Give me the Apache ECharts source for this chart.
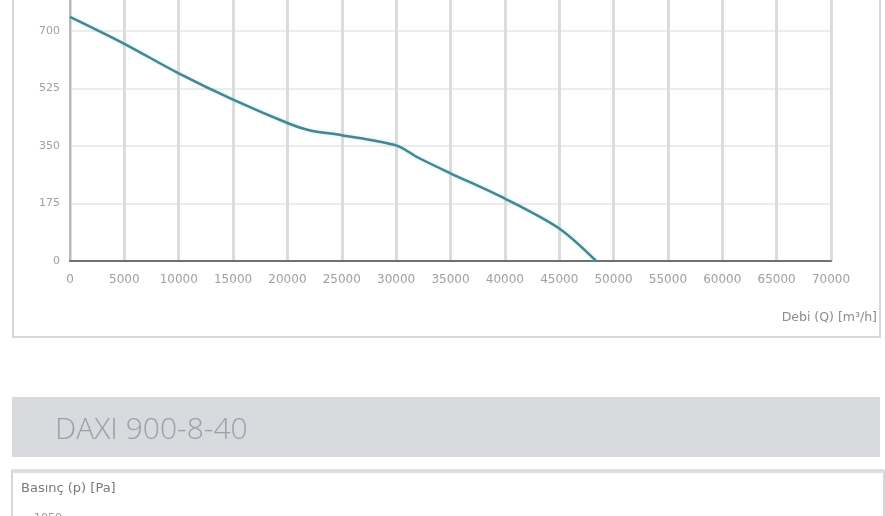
<!DOCTYPE html>
<html>
<head>
<meta charset="utf-8">
<script src="https://cdn.jsdelivr.net/npm/echarts@6/dist/echarts.min.js"></script>
<style>
html,body{margin:0;padding:0;background:#fff;overflow:hidden;}
#c{width:885px;height:548px;margin-top:-32px;}
</style>
</head>
<body>
<div id="c"></div>
<script>
// Data
const flowQ = [0, 5000, 10000, 15000, 20000, 22000, 25000, 30000, 32000, 35000, 40000, 45000, 48400];
const pressureP = [743, 661, 571, 491, 420, 398, 383, 352, 315, 267, 190, 99, 0];
const xTicks = [0, 5000, 10000, 15000, 20000, 25000, 30000, 35000, 40000, 45000, 50000, 55000, 60000, 65000, 70000];
const yTicks = [0, 175, 350, 525, 700, 875];
const xAxisName = 'Debi (Q) [m³/h]';
const nextTitle = 'DAXI 900-8-40';
const nextYAxisName = 'Basınç (p) [Pa]';
const nextTopTick = '1050';

const OFF = 32; // page is shifted up by this many pixels
const chart = echarts.init(document.getElementById('c'), null, {renderer:'canvas'});
const font = '"DejaVu Sans", sans-serif';
chart.setOption({
  animation:false,
  backgroundColor:'#fff',
  grid:{left:70, right:54, top:0, bottom:255, containLabel:false},
  xAxis:{
    type:'value', min:xTicks[0], max:xTicks[xTicks.length-1], interval:5000,
    axisLine:{show:true, lineStyle:{color:'#707070', width:2}},
    axisTick:{show:false},
    axisLabel:{color:'#a0a0a0', fontSize:12, fontFamily:font, margin:13, formatter:v=>String(v)},
    splitLine:{show:true, lineStyle:{color:'#dcdcdc', width:3}}
  },
  yAxis:{
    type:'value', min:yTicks[0], max:yTicks[yTicks.length-1], interval:175,
    axisLine:{show:true, lineStyle:{color:'#b4b8c0', width:2}},
    axisTick:{show:false},
    axisLabel:{color:'#a0a0a0', fontSize:11, fontFamily:font, margin:10, formatter:v=>String(v)},
    splitLine:{show:true, lineStyle:{color:'#ececec', width:2}}
  },
  series:[{
    type:'line', smooth:0.3, symbol:'none',
    data: flowQ.map((q,i)=>[q, pressureP[i]]),
    lineStyle:{color:'#458690', width:2.5, shadowColor:'rgba(120,220,230,0.5)', shadowBlur:3},
    z:5
  }],
  graphic:[
    {type:'rect', z:-10, silent:true, shape:{x:13, y:0, width:867, height:337+OFF},
      style:{fill:'none', stroke:'#d8d8d8', lineWidth:2}},
    {type:'text', silent:true, style:{x:877, y:318+OFF, text:xAxisName, fill:'#8c8c8c', font:'12.5px '+font, align:'right', verticalAlign:'middle'}},
    {type:'rect', silent:true, shape:{x:12, y:397+OFF, width:868, height:60},
      style:{fill:'#d9dadd'}},
    {type:'text', silent:true, style:{x:55, y:430+OFF, text:nextTitle, fill:'#97a2ae', font:'300 30px "Open Sans", sans-serif', verticalAlign:'middle'}},
    {type:'rect', silent:true, shape:{x:12, y:471+OFF, width:872, height:80},
      style:{fill:'#fff', stroke:'#d6d6d6', lineWidth:2}},
    {type:'rect', silent:true, shape:{x:12, y:469+OFF, width:872, height:4},
      style:{fill:'#dedede'}},
    {type:'text', silent:true, style:{x:21, y:489+OFF, text:nextYAxisName, fill:'#7a7a7a', font:'13px '+font, verticalAlign:'middle'}},
    {type:'text', silent:true, style:{x:34, y:513+OFF, text:nextTopTick, fill:'#9a9a9a', font:'11px '+font}}
  ]
});
</script>
</body>
</html>
